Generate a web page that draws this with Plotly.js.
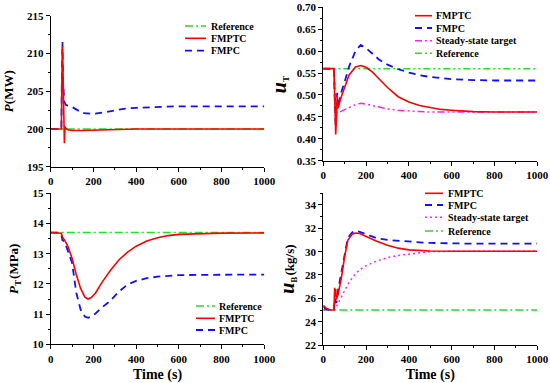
<!DOCTYPE html>
<html>
<head>
<meta charset="utf-8">
<script src="https://cdn.plot.ly/plotly-3.0.1.min.js"></script>
<style>html,body{margin:0;padding:0;background:#fff;}#chart{width:550px;height:383px;}</style>
</head>
<body>
<div id="chart"></div>
<script>
// ---------- Data ----------
// Panel 1: P (MW)
const tP = [0, 45, 50, 52, 55, 58, 61, 64, 67, 70, 80, 100, 150, 200, 250, 300, 350, 400, 600, 800, 1000];
const P_ref   = [200,200,200,200,200,200,200,200,200,200,200,200,200,200,200,200,200,200,200,200,200];
const P_fmptc = [200,200,200,206,211,207,199.5,198.1,200.3,200.1,199.9,199.8,199.8,199.85,199.9,199.95,200,200,200,200,200];
const P_fmpc  = [200,200,200,206,211.5,206,203.7,203.6,203.4,203.2,203.1,202.9,202.1,202.0,202.2,202.5,202.7,202.8,203,203,203];

// Panel 2: u_T
const tUT = [0,50,53,56,58,60,62,65,68,72,80,100,120,150,175,200,230,260,300,350,400,450,500,550,600,700,800,1000];
const uT_fmptc = [0.56,0.56,0.50,0.44,0.41,0.43,0.46,0.50,0.47,0.475,0.49,0.52,0.545,0.564,0.567,0.563,0.552,0.537,0.517,0.496,0.484,0.476,0.471,0.467,0.465,0.462,0.461,0.461];
const uT_fmpc  = [0.56,0.56,0.50,0.45,0.43,0.44,0.48,0.505,0.47,0.48,0.50,0.53,0.564,0.600,0.614,0.607,0.594,0.581,0.569,0.559,0.551,0.545,0.541,0.538,0.536,0.534,0.533,0.533];
const uT_sst   = [0.56,0.56,0.52,0.47,0.46,0.46,0.462,0.46,0.462,0.461,0.462,0.466,0.471,0.478,0.481,0.479,0.476,0.472,0.468,0.465,0.463,0.462,0.461,0.461,0.461,0.461,0.461,0.461];
const uT_ref   = [0.56,0.56,0.56,0.56,0.56,0.56,0.56,0.56,0.56,0.56,0.56,0.56,0.56,0.56,0.56,0.56,0.56,0.56,0.56,0.56,0.56,0.56,0.56,0.56,0.56,0.56,0.56,0.56];

// Panel 3: P_T (MPa)
const tPT = [0,40,50,55,65,80,100,120,140,160,175,190,210,240,280,320,360,400,450,500,550,600,700,800,1000];
const PT_ref   = [13.7,13.7,13.7,13.7,13.7,13.7,13.7,13.7,13.7,13.7,13.7,13.7,13.7,13.7,13.7,13.7,13.7,13.7,13.7,13.7,13.7,13.7,13.7,13.7,13.7];
const PT_fmptc = [13.7,13.7,13.68,13.55,13.45,13.25,12.85,12.3,11.85,11.56,11.5,11.55,11.7,12.05,12.45,12.8,13.05,13.25,13.42,13.53,13.6,13.64,13.67,13.68,13.69];
const PT_fmpc  = [13.7,13.7,13.6,13.45,13.4,13.1,12.7,11.7,11.15,10.92,10.88,10.92,11.02,11.22,11.45,11.75,11.98,12.1,12.19,12.24,12.27,12.29,12.3,12.31,12.31];

// Panel 4: u_B (kg/s)
const tUB = [0,10,30,50,53,56,58,61,70,84,100,115,135,150,170,200,250,300,350,400,450,500,600,700,1000];
const uB_fmptc = [25.4,25.2,25.0,25.0,26.9,26.2,26.8,25.9,26.4,27.7,29.6,31.0,31.5,31.6,31.55,31.3,30.9,30.55,30.3,30.15,30.08,30.05,30.03,30.03,30.03];
const uB_fmpc  = [25.3,25.1,25.0,25.0,25.8,26.0,25.7,25.6,26.8,28.2,30.0,31.2,31.65,31.8,31.7,31.5,31.15,31.0,30.92,30.85,30.8,30.75,30.7,30.68,30.68];
const uB_sst   = [25.0,25.0,25.0,25.0,25.05,25.1,25.15,25.25,25.6,26.1,26.7,27.2,27.75,28.1,28.45,28.8,29.2,29.48,29.68,29.8,29.92,30.0,30.03,30.03,30.03];
const uB_ref   = [25,25,25,25,25,25,25,25,25,25,25,25,25,25,25,25,25,25,25,25,25,25,25,25,25];

// Tick settings / labels
const xTicks = [0,200,400,600,800,1000];
const yTicks1 = [195,200,205,210,215];
const yTicks2 = [0.35,0.40,0.45,0.50,0.55,0.60,0.65,0.70];
const yTicks3 = [10,11,12,13,14,15];
const yTicks4 = [22,24,26,28,30,32,34];

// ---------- Styles ----------
const RED = '#FF0000', BLUE = '#1010FF', GREEN = '#22E022', MAG = '#FF22FF';
const S = {
  fmptc: {color: RED, width: 1.6, dash: 'solid'},
  fmpc:  {color: BLUE, width: 1.8, dash: '7px,5px'},
  refDD: {color: GREEN, width: 1.5, dash: '8px,3px,2px,3px'},
  refDDD:{color: GREEN, width: 1.5, dash: '7px,3px,2px,3px,2px,3px'},
  sstDDD:{color: MAG, width: 1.5, dash: '7px,3px,2px,3px,2px,3px'},
  sstDot:{color: MAG, width: 1.5, dash: '2px,3px'}
};

function tr(x, y, name, line, xa, ya) {
  return {x: x, y: y, name: name, type: 'scatter', mode: 'lines', line: line,
          xaxis: xa, yaxis: ya, showlegend: false, hoverinfo: 'skip'};
}

const data = [
  tr(tP, P_ref, 'Reference', S.refDD, 'x', 'y'),
  tr(tP, P_fmpc, 'FMPC', S.fmpc, 'x', 'y'),
  tr(tP, P_fmptc, 'FMPTC', S.fmptc, 'x', 'y'),

  tr(tUT, uT_ref, 'Reference', S.refDDD, 'x2', 'y2'),
  tr(tUT, uT_sst, 'Steady-state target', S.sstDDD, 'x2', 'y2'),
  tr(tUT, uT_fmpc, 'FMPC', S.fmpc, 'x2', 'y2'),
  tr(tUT, uT_fmptc, 'FMPTC', S.fmptc, 'x2', 'y2'),

  tr(tPT, PT_ref, 'Reference', S.refDD, 'x3', 'y3'),
  tr(tPT, PT_fmpc, 'FMPC', S.fmpc, 'x3', 'y3'),
  tr(tPT, PT_fmptc, 'FMPTC', S.fmptc, 'x3', 'y3'),

  tr(tUB, uB_ref, 'Reference', S.refDD, 'x4', 'y4'),
  tr(tUB, uB_sst, 'Steady-state target', S.sstDot, 'x4', 'y4'),
  tr(tUB, uB_fmpc, 'FMPC', S.fmpc, 'x4', 'y4'),
  tr(tUB, uB_fmptc, 'FMPTC', S.fmptc, 'x4', 'y4')
];

// ---------- Layout ----------
const FONT = 'Liberation Serif, Times New Roman, serif';
const tickFont = {family: FONT, size: 11, color: '#000', weight: 700};

function xax(domain, anchor, showTitle) {
  const a = {
    domain: domain, anchor: anchor, range: [0, 1000],
    tickmode: 'array', tickvals: xTicks, ticktext: xTicks.map(String),
    showline: true, linecolor: '#000', linewidth: 1,
    ticks: 'outside', ticklen: 4, tickwidth: 1, tickcolor: '#000',
    minor: {ticks: 'outside', ticklen: 2, tickcolor: '#000', dtick: 100, showgrid: false},
    showgrid: false, zeroline: false, tickfont: tickFont, automargin: false
  };
  if (showTitle) a.title = {text: 'Time (s)', font: {family: FONT, size: 14, color: '#000', weight: 700}, standoff: 6};
  return a;
}
function yax(domain, anchor, range, ticks, fmt, title, standoff, minorD) {
  return {
    domain: domain, anchor: anchor, range: range,
    tickmode: 'array', tickvals: ticks, ticktext: ticks.map(v => fmt(v)),
    showline: true, linecolor: '#000', linewidth: 1,
    ticks: 'outside', ticklen: 4, tickwidth: 1, tickcolor: '#000',
    minor: {ticks: 'outside', ticklen: 2, tickcolor: '#000', dtick: minorD, showgrid: false},
    showgrid: false, zeroline: false, tickfont: tickFont, automargin: false,
    title: {text: title, font: {family: FONT, size: 13, color: '#000', weight: 700}, standoff: standoff}
  };
}

const layout = {
  width: 550, height: 383,
  margin: {l: 0, r: 0, t: 0, b: 0},
  paper_bgcolor: '#fff', plot_bgcolor: '#fff',
  showlegend: false,
  font: {family: FONT, color: '#000'},
  xaxis:  xax([0.0922, 0.4805], 'y', false),
  yaxis:  yax([0.5648, 0.959], 'x', [195, 215], yTicks1, v => String(v), '<i>P</i>(MW)', 10, 2.5),
  xaxis2: xax([0.5878, 0.9769], 'y2', false),
  yaxis2: yax([0.5804, 0.981], 'x2', [0.35, 0.70], yTicks2, v => v.toFixed(2), '<span style="font-size:20px"><i>u</i></span><sub>T</sub>', 7, 0.025),
  xaxis3: xax([0.0922, 0.4805], 'y3', true),
  yaxis3: yax([0.101, 0.4953], 'x3', [10, 15], yTicks3, v => String(v), '<i>P</i><sub>T</sub>(MPa)', 10, 0.5),
  xaxis4: xax([0.5878, 0.9769], 'y4', true),
  yaxis4: yax([0.0992, 0.4953], 'x4', [22, 35], yTicks4, v => String(v), '<span style="font-size:20px"><i>u</i></span><sub>B</sub>(kg/s)', 7, 1),
  shapes: [],
  annotations: []
};

// ---------- Custom legends (built from trace names/styles) ----------
const legends = [
  {items: [['Reference', S.refDD], ['FMPTC', S.fmptc], ['FMPC', S.fmpc]],
   x0: 185, x1: 206, xt: 209, ys: [26, 38.3, 50.7]},
  {items: [['FMPTC', S.fmptc], ['FMPC', S.fmpc], ['Steady-state target', S.sstDDD], ['Reference', S.refDDD]],
   x0: 415, x1: 432, xt: 434, ys: [15.7, 28, 40.7, 53.3]},
  {items: [['Reference', S.refDD], ['FMPTC', S.fmptc], ['FMPC', S.fmpc]],
   x0: 196, x1: 215, xt: 216.5, ys: [306, 318.3, 330]},
  {items: [['FMPTC', S.fmptc], ['FMPC', S.fmpc], ['Steady-state target', S.sstDot], ['Reference', S.refDD]],
   x0: 425, x1: 443, xt: 446, ys: [193.3, 205, 217.3, 231]}
];
const W = 550, H = 383;
legends.forEach(lg => {
  lg.items.forEach((it, i) => {
    const yp = 1 - lg.ys[i] / H;
    layout.shapes.push({type: 'line', xref: 'paper', yref: 'paper',
      x0: lg.x0 / W, x1: lg.x1 / W, y0: yp, y1: yp,
      line: {color: it[1].color, width: it[1].width, dash: it[1].dash}});
    layout.annotations.push({xref: 'paper', yref: 'paper', x: lg.xt / W, y: yp,
      xanchor: 'left', yanchor: 'middle', showarrow: false, text: it[0],
      font: {family: FONT, size: 10, color: '#000', weight: 700}});
  });
});

Plotly.newPlot('chart', data, layout, {staticPlot: true, displayModeBar: false}).then(gd => {
  const ZWS = '\u200b';
  // Plotly inserts zero-width-space helpers around <sub>; give the baseline
  // resetters a hair space (keeps the dy) and drop the bare ones.
  gd.querySelectorAll('tspan').forEach(ts => {
    if (ts.childNodes.length === 1 && ts.firstChild.nodeType === 3 && ts.firstChild.nodeValue === ZWS) {
      ts.firstChild.nodeValue = '\u200a';
    }
  });
  const walker = document.createTreeWalker(gd, NodeFilter.SHOW_TEXT);
  const toFix = [];
  while (walker.nextNode()) toFix.push(walker.currentNode);
  toFix.forEach(n => {
    if (n.nodeValue.indexOf(ZWS) >= 0) {
      const v = n.nodeValue.split(ZWS).join('');
      if (v.length) n.nodeValue = v; else n.parentNode.removeChild(n);
    }
  });
  gd.querySelectorAll('text').forEach(t => {
    if (!t.textContent || !t.textContent.trim()) t.parentNode.removeChild(t);
  });
});
</script>
</body>
</html>
